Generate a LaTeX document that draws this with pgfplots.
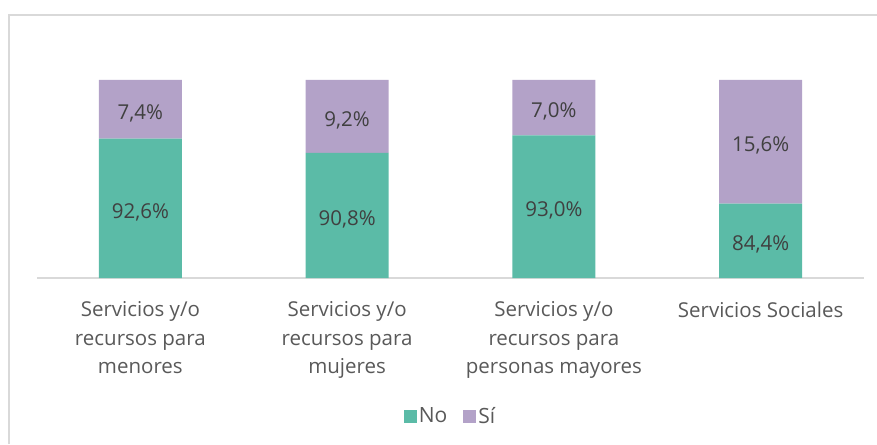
\documentclass[border=0pt]{standalone}
\usepackage{pgfplots}
\pgfplotsset{compat=1.18}
\usepackage{pgfplotstable}
\usepackage{fontspec}
\setmainfont{Open Sans}
\definecolor{cno}{HTML}{5BBBA7}
\definecolor{csi}{HTML}{B3A2C8}
\definecolor{bordergray}{HTML}{D9D9D9}
\definecolor{txtgray}{HTML}{595959}
\definecolor{lblgray}{HTML}{404040}
\pgfplotstableread{
x no si
0 92.6 7.4
1 90.8 9.2
2 93.0 7.0
3 84.4 15.6
}\data
\begin{document}
\begin{tikzpicture}
\useasboundingbox (0,0) rectangle (877pt,444pt);
\draw[color=bordergray, line width=2pt] (9pt,0) -- (9pt,429pt) -- (877pt,429pt);
\begin{axis}[
  at={(37pt,166pt)}, anchor=south west,
  scale only axis, width=827pt, height=198pt,
  xmin=-0.5, xmax=3.5, ymin=75, ymax=100,
  ybar stacked, bar width=83pt,
  hide y axis,
  axis x line*=bottom,
  x axis line style={draw=bordergray, line width=1.5pt, -},
  xtick=data, major tick length=0pt,
  xticklabels={{Servicios y/o\\recursos para\\menores},{Servicios y/o\\recursos para\\mujeres},{Servicios y/o\\recursos para\\personas mayores},{Servicios Sociales}},
  xticklabel style={font=\fontsize{20.5}{28.5}\selectfont, text=txtgray, align=center, anchor=north, yshift=-20pt},
  /pgf/number format/assume math mode=true,
  point meta=explicit,
  nodes near coords={\pgfmathprintnumber[fixed, fixed zerofill, precision=1, use comma]{\pgfplotspointmeta}\%},
  legend style={at={(0.5,-0.697)}, anchor=center, draw=none, legend columns=2, font=\fontsize{21}{24}\selectfont, text=txtgray,
    /tikz/every even column/.append style={column sep=14pt}},
  legend image code/.code={\fill[#1] (-5pt,-6.5pt) rectangle (8pt,6.5pt);},
  clip=false,
]
\addplot[fill=cno, draw=none,
  every node near coord/.style={font=\fontsize{20.5}{24}\selectfont, text=lblgray, anchor=center,
    shift={(axis direction cs:0,37.5)}, yshift=-4pt}]
  table[x=x, y=no, meta=no]{\data};
\addplot[fill=csi, draw=none,
  every node near coord/.style={font=\fontsize{20.5}{24}\selectfont, text=lblgray, anchor=center, yshift=-4pt}]
  table[x=x, y=si, meta=si]{\data};
\legend{No, Sí}
\end{axis}
\end{tikzpicture}
\end{document}
